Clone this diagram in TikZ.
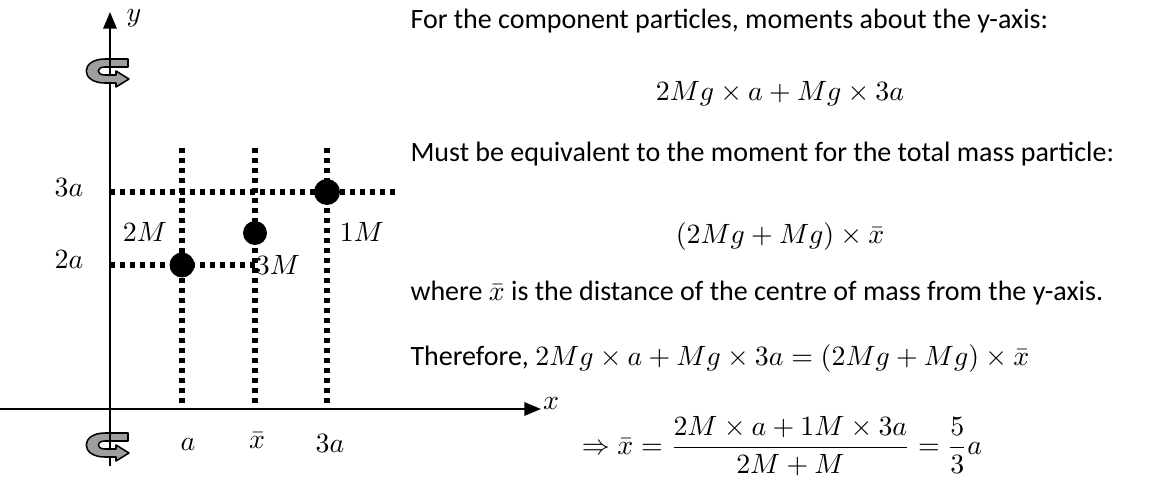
\documentclass[tikz,border=0pt]{standalone}
\usepackage[no-math]{fontspec}
\setmainfont{Carlito}
\usepackage{amsmath}
\usetikzlibrary{arrows.meta}
\tikzset{
  axisline/.style={line width=0.8pt, -{Triangle[length=6.5pt,width=5.2pt]}},
  plainaxis/.style={line width=0.8pt},
  gridline/.style={line width=2pt, dash pattern=on 2pt off 1.93pt},
  massdot/.style={circle, fill=black, inner sep=0pt},
  lbl/.style={font=\fontsize{11}{13}\selectfont, inner sep=0pt},
  txt/.style={font=\fontsize{11}{13}\selectfont, inner sep=0pt, anchor=base west},
  spinband/.style={fill=black!38, draw=black, line width=0.6pt, line join=round},
  spin/.pic={
    \draw[spinband] (18,-12) -- (-5,-12) .. controls (-30,-12) and (-30,12) .. (-5,12)
      -- (6,12) -- (6,16) -- (19,8) -- (6,0) -- (6,4) -- (-5,4)
      .. controls (-14,4) and (-14,-4) .. (-5,-4) -- (18,-4) -- cycle;
    \coordinate (-u) at (0,-12);
    \coordinate (-l) at (0,-4);
  }
}

\begin{document}
\begin{tikzpicture}[x=0.3928pt, y=-0.3928pt]
  \useasboundingbox (0,0) rectangle (1155,477);

  % axes
  \coordinate (ytop) at (110,12);
  \coordinate (ybot) at (110,466);
  \coordinate (xlft) at (0,409);
  \coordinate (xrgt) at (541,409);
  \draw[axisline] (ybot) -- (ytop);
  \draw[axisline] (xlft) -- (xrgt);
  \node[lbl] (ylab) at (134,18) {$y$};
  \node[lbl] (xlab) at (551,403) {$x$};

  % rotation about the y-axis
  \pic (topspin) at (110,71) {spin};
  \pic (botspin) at (110,445) {spin};
  \draw[plainaxis] (topspin-u) -- (topspin-l);
  \draw[plainaxis] (botspin-u) -- (botspin-l);

  % dotted grid
  \foreach \n/\xx in {a/182, xb/255, c/327} {
    \coordinate (top\n) at (\xx,148);
    \coordinate (bot\n) at (\xx,409);
    \draw[gridline] (top\n) -- (bot\n);
  }
  \coordinate (h3l) at (110,192);
  \coordinate (h3r) at (400,192);
  \coordinate (h2l) at (110,265);
  \coordinate (h2r) at (255,265);
  \draw[gridline] (h3l) -- (h3r);
  \draw[gridline] (h2l) -- (h2r);

  % particles
  \node[massdot, minimum size=9.8pt]  (m2) at (182,265) {};
  \node[massdot, minimum size=9.4pt]  (m3) at (255,233) {};
  \node[massdot, minimum size=10.2pt] (m1) at (327,192) {};

  % labels
  \node[lbl] (l3a) at (69,188) {$3a$};
  \node[lbl] (l2a) at (69,260) {$2a$};
  \node[lbl] (l2M) at (145,232) {$2M$};
  \node[lbl] (l1M) at (362,232) {$1M$};
  \node[lbl] (l3M) at (278,265) {$3M$};
  \node[lbl] (lxa) at (188,444) {$a$};
  \node[lbl] (lxb) at (257,441) {$\bar{x}$};
  \node[lbl] (lxc) at (330,444) {$3a$};

  % working
  \node[txt] (t1) at (410,28) {For the component particles, moments about the y-axis:};
  \node[lbl, anchor=base] (t2) at (780,100) {$2Mg\times a+Mg\times 3a$};
  \node[txt] (t3) at (410,161) {Must be equivalent to the moment for the total mass particle:};
  \node[lbl, anchor=base] (t4) at (780,243) {$(2Mg+Mg)\times\bar{x}$};
  \node[txt] (t5) at (410,300) {where $\bar{x}$ is the distance of the centre of mass from the y-axis.};
  \node[txt] (t6) at (410,365) {Therefore, $2Mg\times a+Mg\times 3a=(2Mg+Mg)\times\bar{x}$};
  \node[lbl] (t7) at (782,446)
    {$\Rightarrow\bar{x}=\dfrac{2M\times a+1M\times 3a}{2M+M}=\dfrac{5}{3}a$};

\end{tikzpicture}
\end{document}
